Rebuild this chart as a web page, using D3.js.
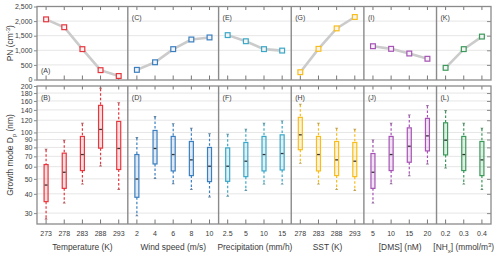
<!DOCTYPE html>
<html><head><meta charset="utf-8">
<script src="https://cdn.jsdelivr.net/npm/d3@7"></script>
<style>
html,body{margin:0;padding:0;background:#fff;}
svg{display:block;font-family:"Liberation Sans",Arial,sans-serif;}
</style></head>
<body>
<svg id="chart" width="500" height="259"></svg>
<script>
// ---- data ----
const groupTitles = ["Temperature (K)", "Wind speed (m/s)", "Precipitation (mm/h)", "SST (K)", "[DMS] (nM)", "[NHx] (mmol/m3)"];
const categoryLabels = [
  ["273","278","283","288","293"],
  ["2","4","6","8","10"],
  ["2.5","5","10","15"],
  ["278","283","288","293"],
  ["5","10","15","20"],
  ["0.2","0.3","0.4"]
];
const topLetters = ["(A)","(C)","(E)","(G)","(I)","(K)"];
const bottomLetters = ["(B)","(D)","(F)","(H)","(J)","(L)"];
const colors = ["#e8363e","#3b7fc0","#3aa8c8","#f9bd1a","#a653b5","#3a9a5a"];
// PN (cm^-3)
const pn = [
  [2060,1790,1040,320,120],
  [330,590,1040,1370,1440],
  [1520,1310,1040,990],
  [250,1050,1750,2140],
  [1140,1050,890,710],
  [400,1040,1470]
];
// Growth mode Dp (nm) box statistics
const whiskerLow = [
  [27.7,35.2,46.6,61,43],
  [29.1,50.7,46.8,43,38.5],
  [38.9,42.4,46.6,46.6],
  [63.5,46.6,43,42.4],
  [35.2,46.8,52.8,63],
  [59.2,46.6,43]
];
const q1 = [
  [35.6,43.4,56.6,79.1,57.5],
  [38,62.5,56.3,52.5,48],
  [48.2,51.7,56.3,57.1],
  [77.3,56.3,52.5,51.7],
  [43.4,56.6,64.1,75.9],
  [71.5,56.6,52.5]
];
const median = [
  [45.6,55.2,71.9,104.6,78.7],
  [49.9,78.7,71.9,66.4,60.4],
  [60.4,65.1,71.9,73],
  [96.5,71.9,66.4,65.1],
  [55.2,71.9,81.4,95],
  [89.1,71.9,66.4]
];
const q3 = [
  [61.9,73.4,94.2,149.8,117.9],
  [71.9,103,94.2,87.4,79.9],
  [79.4,86.1,94.2,96.5],
  [125.3,94.2,87.4,86.1],
  [73,94.2,107.1,123.3],
  [115.5,94.2,87.4]
];
const whiskerHigh = [
  [77.1,88.2,113.8,192,154.4],
  [91.9,125.7,113.2,105.6,97.5],
  [96.5,104,113.8,117.9],
  [151.1,113.8,105.6,104],
  [88.7,113.8,129,148.3],
  [137.6,113.8,105.6]
];
const pnTicks = [0,500,1000,1500,2000,2500];
const dpTicks = [30,40,50,60,70,80,90,100,120,140,160,180,200];

// ---- layout ----
const svg = d3.select("#chart");
const L = 37, R = 491;
const topY0 = 6.5, topY1 = 80;
const botY0 = 86, botY1 = 224;
const frameColor = "#8a8a8a";
const gridColor = "#e6e6e6";
const textColor = "#3a3a3a";

const keys = [];
categoryLabels.forEach((cats,g)=>cats.forEach((c,i)=>keys.push(g+"_"+i)));
const x = d3.scaleBand().domain(keys).range([L,R]).paddingInner(0).paddingOuter(0);
const xc = k => x(k) + x.bandwidth()/2;
const yTop = d3.scaleLinear().domain([0,2500]).range([topY1-0.5, topY0]);
const yBot = d3.scaleLog().domain([25.5,200]).range([botY1, botY0]);

// gridlines
svg.append("g").selectAll("line").data(pnTicks.slice(1,-1)).join("line")
  .attr("x1",L).attr("x2",R).attr("y1",d=>yTop(d)).attr("y2",d=>yTop(d))
  .attr("stroke",gridColor).attr("stroke-width",1);
svg.append("g").selectAll("line").data(dpTicks.slice(0,-1)).join("line")
  .attr("x1",L).attr("x2",R).attr("y1",d=>yBot(d)).attr("y2",d=>yBot(d))
  .attr("stroke",gridColor).attr("stroke-width",1);

// left axes
const axT = svg.append("g").attr("transform",`translate(${L},0)`)
  .call(d3.axisLeft(yTop).tickValues(pnTicks).tickSize(3).tickPadding(1.5));
const axB = svg.append("g").attr("transform",`translate(${L},0)`)
  .call(d3.axisLeft(yBot).tickValues(dpTicks).tickFormat(d3.format("d")).tickSize(3).tickPadding(1.5));
[axT,axB].forEach(a=>{
  a.select(".domain").remove();
  a.selectAll("line").attr("stroke",frameColor);
  a.selectAll("text").attr("fill",textColor).style("font-size","7px").style("font-family","Liberation Sans, Arial, sans-serif");
});
// right axes (inward ticks)
const arT = svg.append("g").attr("transform",`translate(${R},0)`)
  .call(d3.axisLeft(yTop).tickValues(pnTicks.slice(1,-1)).tickSize(4).tickFormat(""));
const arB = svg.append("g").attr("transform",`translate(${R},0)`)
  .call(d3.axisLeft(yBot).tickValues(dpTicks.slice(0,-1)).tickSize(4).tickFormat(""));
[arT,arB].forEach(a=>{a.select(".domain").remove(); a.selectAll("line").attr("stroke",frameColor);});

// x ticks inward
function xTicks(y, dir, len){
  svg.append("g").selectAll("line").data(keys).join("line")
    .attr("x1",d=>xc(d)).attr("x2",d=>xc(d)).attr("y1",y).attr("y2",y+dir*len)
    .attr("stroke","#777").attr("stroke-width",1);
}
xTicks(topY0,1,3.5); xTicks(topY1,-1,4.5); xTicks(botY0,1,3.5); xTicks(botY1,-1,4.5);

// frames
[[topY0,topY1],[botY0,botY1]].forEach(([a,b])=>{
  svg.append("rect").attr("x",L).attr("y",a).attr("width",R-L).attr("height",b-a)
    .attr("fill","none").attr("stroke",frameColor).attr("stroke-width",1.3);
});
// group separators
categoryLabels.forEach((cats,g)=>{
  if(g===0) return;
  const xs = x(g+"_0");
  [[topY0,topY1],[botY0,botY1]].forEach(([a,b])=>{
    svg.append("line").attr("x1",xs).attr("x2",xs).attr("y1",a).attr("y2",b)
      .attr("stroke",frameColor).attr("stroke-width",1.4);
  });
});

// top panel: lines + square markers
categoryLabels.forEach((cats,g)=>{
  const pts = cats.map((c,i)=>[xc(g+"_"+i), yTop(pn[g][i])]);
  svg.append("path").attr("d",d3.line()(pts)).attr("fill","none")
    .attr("stroke","#cbcbcb").attr("stroke-width",2.6);
  svg.append("g").selectAll("rect").data(pts).join("rect")
    .attr("x",d=>d[0]-2.4).attr("y",d=>d[1]-2.4).attr("width",4.8).attr("height",4.8)
    .attr("fill","#f4f4f4").attr("stroke",colors[g]).attr("stroke-width",1.2);
});

// bottom panel: boxes
const bw = 4;
categoryLabels.forEach((cats,g)=>{
  const col = colors[g];
  const capCol = d3.interpolateRgb(col,"#888")(0.5);
  cats.forEach((c,i)=>{
    const cx = xc(g+"_"+i);
    const gg = svg.append("g");
    // whiskers
    gg.append("line").attr("x1",cx).attr("x2",cx).attr("y1",yBot(whiskerHigh[g][i])).attr("y2",yBot(q3[g][i]))
      .attr("stroke",col).attr("stroke-width",1.2).attr("stroke-dasharray","2.5,2");
    gg.append("line").attr("x1",cx).attr("x2",cx).attr("y1",yBot(q1[g][i])).attr("y2",yBot(whiskerLow[g][i]))
      .attr("stroke",col).attr("stroke-width",1.2).attr("stroke-dasharray","2.5,2");
    // box
    gg.append("rect").attr("x",cx-bw/2).attr("y",yBot(q3[g][i])).attr("width",bw)
      .attr("height",yBot(q1[g][i])-yBot(q3[g][i]))
      .attr("fill",col).attr("fill-opacity",0.16).attr("stroke",col).attr("stroke-width",1.2);
    // median
    gg.append("line").attr("x1",cx-bw/2+0.6).attr("x2",cx+bw/2-0.6).attr("y1",yBot(median[g][i])).attr("y2",yBot(median[g][i]))
      .attr("stroke","#333").attr("stroke-width",1.3);
    // caps
    const yh = yBot(whiskerHigh[g][i]), yl = yBot(whiskerLow[g][i]);
    gg.append("path").attr("d",`M${cx-1.6},${yh-1}L${cx+1.6},${yh-1}L${cx},${yh+1.2}Z`).attr("fill",capCol);
    gg.append("path").attr("d",`M${cx-1.6},${yl+1}L${cx+1.6},${yl+1}L${cx},${yl-1.2}Z`).attr("fill",capCol);
  });
});

// panel letters
categoryLabels.forEach((cats,g)=>{
  const x0 = x(g+"_0") + 4;
  svg.append("text").attr("x",x0).attr("y", g===0 ? 73 : 19.5).text(topLetters[g])
    .attr("fill",textColor).style("font-size","7px");
  svg.append("text").attr("x",x0).attr("y",99.5).text(bottomLetters[g])
    .attr("fill",textColor).style("font-size","7px");
});

// x tick labels
svg.append("g").selectAll("text").data(keys).join("text")
  .attr("x",d=>xc(d)).attr("y",235.5).attr("text-anchor","middle")
  .text(d=>{const [g,i]=d.split("_").map(Number); return categoryLabels[g][i];})
  .attr("fill",textColor).style("font-size","7px");

// group titles
categoryLabels.forEach((cats,g)=>{
  const cx = (x(g+"_0") + x(g+"_"+(cats.length-1)) + x.bandwidth())/2;
  const t = svg.append("text").attr("x",cx).attr("y",250).attr("text-anchor","middle")
    .attr("fill",textColor).style("font-size","8.4px");
  if(g===5){
    t.append("tspan").text("[NH");
    t.append("tspan").text("x").attr("dy",2.5).style("font-size","6px");
    t.append("tspan").text("] (mmol/m").attr("dy",-2.5);
    t.append("tspan").text("3").attr("dy",-3).style("font-size","6px");
    t.append("tspan").text(")").attr("dy",3);
  } else t.text(groupTitles[g]);
});

// y axis titles
const yt1 = svg.append("text").attr("transform",`translate(13,${(topY0+topY1)/2}) rotate(-90)`)
  .attr("text-anchor","middle").attr("fill",textColor).style("font-size","8.4px");
yt1.append("tspan").text("PN (cm");
yt1.append("tspan").text("-3").attr("dy",-3).style("font-size","6px");
yt1.append("tspan").text(")").attr("dy",3);
const yt2 = svg.append("text").attr("transform",`translate(13,${(botY0+botY1)/2}) rotate(-90)`)
  .attr("text-anchor","middle").attr("fill",textColor).style("font-size","8.4px");
yt2.append("tspan").text("Growth mode D");
yt2.append("tspan").text("p").attr("dy",3).style("font-size","6px");
yt2.append("tspan").text("  (nm)").attr("dy",-3);
</script>
</body></html>
